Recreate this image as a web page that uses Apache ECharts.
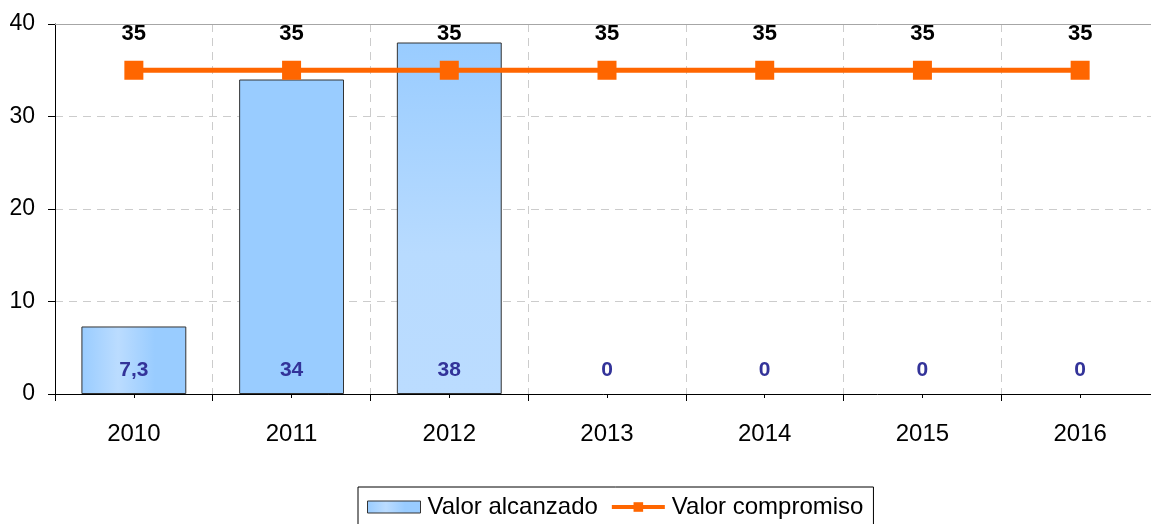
<html>
    <head>
        <meta charset='utf-8'>
        <script src='https://cdn.jsdelivr.net/npm/echarts@6/dist/echarts.min.js'></script>
    </head>
    <body>
        <style>
            html, body, #main {
                width: 100%;
                height: 100%;
                margin: 0;
                background: #fff;
            }
        </style>
        <div id='main'></div>
        <script>

            var years = ['2010', '2011', '2012', '2013', '2014', '2015', '2016'];
            var alcanzado = [7.3, 34, 38, 0, 0, 0, 0];
            var compromiso = [35, 35, 35, 35, 35, 35, 35];

            var FONT = 'Liberation Sans';

            // fill of each bar (the original had a different gradient per bar)
            var hGrad = new echarts.graphic.LinearGradient(0, 0, 1, 0, [
                {offset: 0, color: '#99ccff'},
                {offset: 0.35, color: '#bbdcff'},
                {offset: 0.7, color: '#99ccff'},
                {offset: 1, color: '#99ccff'}
            ]);
            var vGrad = new echarts.graphic.LinearGradient(0, 0, 0, 1, [
                {offset: 0, color: '#99ccff'},
                {offset: 0.6, color: '#b8dbff'},
                {offset: 1, color: '#bbdcff'}
            ]);
            var barFills = [hGrad, '#99ccff', vGrad, '#99ccff', '#99ccff', '#99ccff', '#99ccff'];

            var chart = echarts.init(document.getElementById('main'));

            var barData = alcanzado.map(function (v, i) {
                return {
                    value: v,
                    itemStyle: {color: barFills[i], borderWidth: v === 0 ? 0 : 1}
                };
            });

            var option = {
                backgroundColor: '#fff',
                animation: false,
                grid: {
                    left: 55,
                    right: -8,
                    top: 24,
                    bottom: 130,
                    outerBoundsMode: 'none'
                },
                legend: {
                    left: 358,
                    top: 487,
                    itemGap: 12,
                    itemWidth: 53,
                    itemHeight: 12,
                    padding: [8, 10, 12, 9],
                    borderColor: '#000',
                    borderWidth: 1,
                    borderRadius: 0,
                    textStyle: {
                        fontFamily: FONT,
                        fontSize: 24,
                        color: '#000',
                        padding: [0, 0, 0, 2]
                    },
                    data: [
                        {name: 'Valor alcanzado', icon: 'rect', itemStyle: {color: hGrad, borderColor: '#333', borderWidth: 1}},
                        {name: 'Valor compromiso', lineStyle: {width: 4}}
                    ]
                },
                xAxis: [{
                    type: 'category',
                    data: years,
                    axisLine: {lineStyle: {color: '#000', width: 1}},
                    axisTick: {show: true, length: 7, lineStyle: {color: '#000'}},
                    axisLabel: {
                        fontFamily: FONT,
                        fontSize: 24,
                        color: '#000',
                        margin: 28
                    },
                    splitLine: {
                        show: true,
                        lineStyle: {color: '#cccccc', type: [8, 6], width: 1}
                    }
                }, {
                    // short ticks under each year
                    type: 'category',
                    data: years,
                    position: 'bottom',
                    axisLine: {show: false},
                    axisTick: {show: true, alignWithLabel: true, length: 4, lineStyle: {color: '#000'}},
                    axisLabel: {show: false},
                    splitLine: {show: false}
                }, {
                    // top border of the plot area
                    type: 'category',
                    data: years,
                    position: 'top',
                    axisLine: {show: true, lineStyle: {color: '#a6a6a6', width: 1}},
                    axisTick: {show: false},
                    axisLabel: {show: false},
                    splitLine: {show: false}
                }],
                yAxis: {
                    type: 'value',
                    min: 0,
                    max: 40,
                    interval: 10,
                    axisLine: {show: true, lineStyle: {color: '#000', width: 1}},
                    axisTick: {show: true, length: 7, lineStyle: {color: '#000'}},
                    axisLabel: {
                        fontFamily: FONT,
                        fontSize: 23,
                        color: '#000',
                        margin: 20
                    },
                    splitLine: {
                        show: true,
                        lineStyle: {color: '#cccccc', type: [8, 6], width: 1}
                    }
                },
                series: [{
                    name: 'Valor alcanzado',
                    type: 'bar',
                    barWidth: '66.5%',
                    data: barData,
                    itemStyle: {
                        borderColor: '#333'
                    },
                    label: {
                        show: true,
                        position: 'insideBottom',
                        distance: 13,
                        fontFamily: FONT,
                        fontSize: 21,
                        fontWeight: 'bold',
                        color: '#333399',
                        formatter: function (p) {
                            return String(p.value).replace('.', ',');
                        }
                    }
                }, {
                    name: 'Valor compromiso',
                    type: 'line',
                    data: compromiso,
                    symbol: 'rect',
                    symbolSize: 19,
                    lineStyle: {color: '#ff6600', width: 5},
                    itemStyle: {color: '#ff6600'},
                    label: {
                        show: true,
                        position: 'top',
                        distance: 16,
                        fontFamily: FONT,
                        fontSize: 22,
                        fontWeight: 'bold',
                        color: '#000'
                    },
                    z: 5
                }]
            };

            chart.setOption(option);

        </script>
    </body>
</html>
